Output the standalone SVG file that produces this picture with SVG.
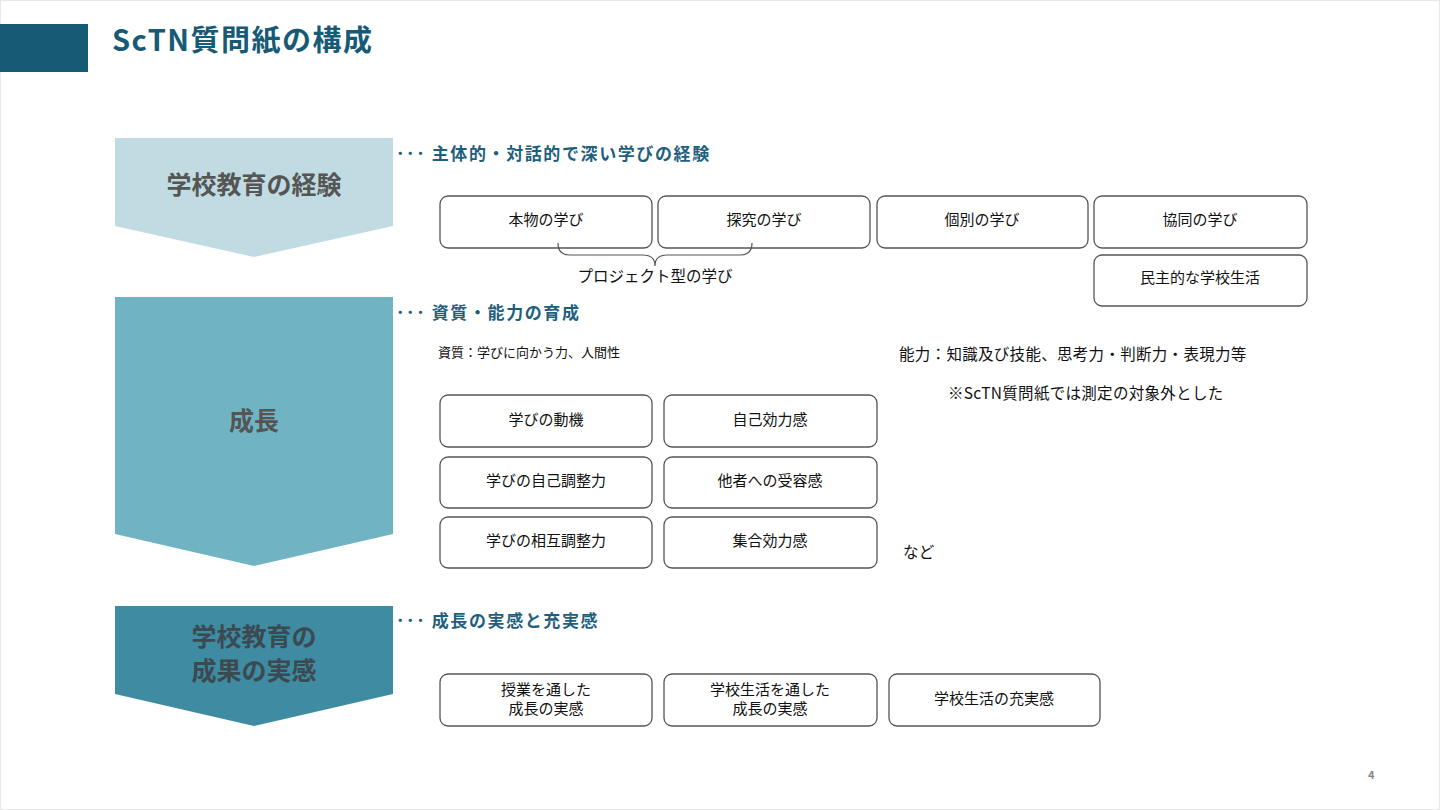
<svg xmlns="http://www.w3.org/2000/svg" width="1440" height="810" viewBox="0 0 1440 810">
<style>
text{font-family:"Noto Sans CJK JP","Noto Sans",sans-serif;}
.box{fill:#fff;stroke:#555;stroke-width:1.3;}
.bt{font-size:15px;fill:#111;text-anchor:middle;}
.hd{font-size:17px;font-weight:bold;fill:#1f5f7e;letter-spacing:1.6px;}
.ct{font-size:25px;font-weight:bold;text-anchor:middle;}
.t{font-size:15.5px;fill:#111;letter-spacing:0.3px;}
</style>
<rect x="0" y="0" width="1440" height="810" fill="#fff"/>
<rect x="0.5" y="0.5" width="1439" height="809" fill="none" stroke="#e8e8e8"/>
<rect x="0" y="24" width="88" height="48" fill="#175a76"/>
<text x="112" y="43" style="font-size:29px;font-weight:bold;fill:#175a76;letter-spacing:1.5px;font-family:'Noto Sans CJK JP',sans-serif" dominant-baseline="middle">ScTN質問紙の構成</text>
<g id="chevron1"><polygon points="115,138 393,138 393,226 254,257 115,226" fill="#c0dbe1"/><text class="ct" x="254" y="194" fill="#555">学校教育の経験</text></g>
<g id="chevron2"><polygon points="115,297 393,297 393,534 254,566 115,534" fill="#70b4c4"/><text class="ct" x="254" y="430" fill="#555">成長</text></g>
<g id="chevron3"><polygon points="115,606 393,606 393,694 254,726 115,694" fill="#3f8ba1"/><text class="ct" x="254" y="646" fill="#3a4a50">学校教育の</text><text class="ct" x="254" y="680" fill="#3a4a50">成果の実感</text></g>
<g id="headers">
<text class="hd" x="396" y="160">･･･ 主体的・対話的で深い学びの経験</text>
<text class="hd" x="396" y="319">･･･ 資質・能力の育成</text>
<text class="hd" x="396" y="627">･･･ 成長の実感と充実感</text>
</g>
<g id="row1">
<g id="n1"><rect class="box" x="440" y="196" width="212" height="52" rx="8"/><text class="bt" x="546" y="225">本物の学び</text></g>
<g id="n2"><rect class="box" x="658" y="196" width="212" height="52" rx="8"/><text class="bt" x="764" y="225">探究の学び</text></g>
<g id="n3"><rect class="box" x="877" y="196" width="211" height="52" rx="8"/><text class="bt" x="982" y="225">個別の学び</text></g>
<g id="n4"><rect class="box" x="1094" y="196" width="213" height="52" rx="8"/><text class="bt" x="1200" y="225">協同の学び</text></g>
<g id="n5"><rect class="box" x="1094" y="255" width="213" height="51" rx="8"/><text class="bt" x="1200" y="283">民主的な学校生活</text></g>
</g>
<g id="connectors"><path d="M558,243 Q558,255 570,255 L643,255 Q655,255 655,266 Q655,255 667,255 L740,255 Q752,255 752,243" fill="none" stroke="#555" stroke-width="1.2"/></g>
<text class="bt" x="655" y="282" style="font-size:15.5px">プロジェクト型の学び</text>
<text x="438" y="357" style="font-size:13px;fill:#111">資質：学びに向かう力、人間性</text>
<text class="t" x="899" y="360">能力：知識及び技能、思考力・判断力・表現力等</text>
<text class="t" x="948" y="399">※ScTN質問紙では測定の対象外とした</text>
<g id="row2">
<g id="m1"><rect class="box" x="440" y="395" width="212" height="52" rx="8"/><text class="bt" x="546" y="425">学びの動機</text></g>
<g id="m2"><rect class="box" x="664" y="395" width="213" height="52" rx="8"/><text class="bt" x="770" y="425">自己効力感</text></g>
<g id="m3"><rect class="box" x="440" y="457" width="212" height="51" rx="8"/><text class="bt" x="546" y="486">学びの自己調整力</text></g>
<g id="m4"><rect class="box" x="664" y="457" width="213" height="51" rx="8"/><text class="bt" x="770" y="486">他者への受容感</text></g>
<g id="m5"><rect class="box" x="440" y="517" width="212" height="51" rx="8"/><text class="bt" x="546" y="546">学びの相互調整力</text></g>
<g id="m6"><rect class="box" x="664" y="517" width="213" height="51" rx="8"/><text class="bt" x="770" y="546">集合効力感</text></g>
</g>
<text class="t" x="903" y="558">など</text>
<g id="row3">
<g id="k1"><rect class="box" x="440" y="674" width="212" height="52" rx="8"/><text class="bt" x="546" y="695">授業を通した</text><text class="bt" x="546" y="714">成長の実感</text></g>
<g id="k2"><rect class="box" x="664" y="674" width="213" height="52" rx="8"/><text class="bt" x="770" y="695">学校生活を通した</text><text class="bt" x="770" y="714">成長の実感</text></g>
<g id="k3"><rect class="box" x="889" y="674" width="211" height="52" rx="8"/><text class="bt" x="994" y="704">学校生活の充実感</text></g>
</g>
<text x="1368" y="779" style="font-size:11px;font-weight:bold;fill:#888">4</text>
</svg>
